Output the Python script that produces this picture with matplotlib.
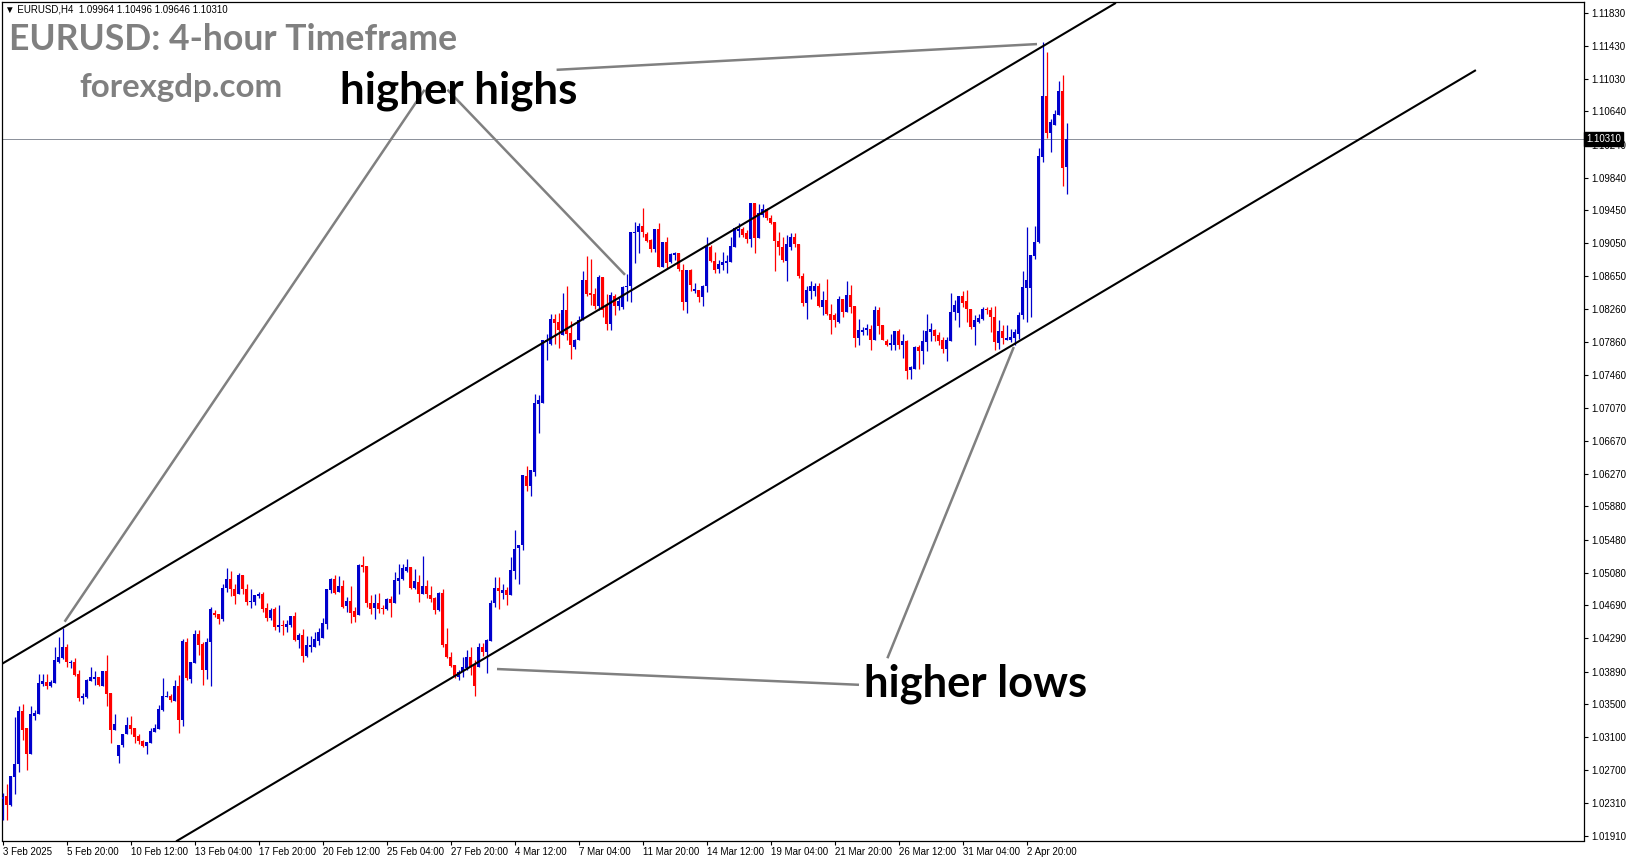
import matplotlib
matplotlib.use("Agg")
import matplotlib.pyplot as plt
import matplotlib.transforms as mtransforms
import numpy as np

# EURUSD H4 candles (oldest first)
opens = [
    1.0235, 1.0239, 1.0228, 1.0262, 1.0277, 1.0341, 1.0321, 1.0290, 1.0336, 1.0338,
    1.0374, 1.0376, 1.0371, 1.0375, 1.0401, 1.0405, 1.0418, 1.0399, 1.0401, 1.0386,
    1.0357, 1.0358, 1.0377, 1.0380, 1.0382, 1.0372, 1.0390, 1.0363, 1.0319, 1.0287,
    1.0300, 1.0314, 1.0325, 1.0321, 1.0311, 1.0305, 1.0299, 1.0303, 1.0316, 1.0320,
    1.0343, 1.0358, 1.0359, 1.0354, 1.0372, 1.0331, 1.0425, 1.0380, 1.0399, 1.0434,
    1.0422, 1.0391, 1.0424, 1.0459, 1.0458, 1.0452, 1.0490, 1.0500, 1.0488, 1.0483,
    1.0505, 1.0488, 1.0473, 1.0473, 1.0480, 1.0482, 1.0465, 1.0453, 1.0464, 1.0443,
    1.0445, 1.0443, 1.0445, 1.0456, 1.0427, 1.0433, 1.0408, 1.0419, 1.0419, 1.0426,
    1.0429, 1.0446, 1.0487, 1.0500, 1.0485, 1.0492, 1.0468, 1.0474, 1.0462, 1.0457,
    1.0517, 1.0516, 1.0471, 1.0466, 1.0471, 1.0466, 1.0464, 1.0476, 1.0472, 1.0498,
    1.0501, 1.0510, 1.0515, 1.0490, 1.0497, 1.0482, 1.0492, 1.0481, 1.0477, 1.0463,
    1.0484, 1.0422, 1.0406, 1.0397, 1.0383, 1.0388, 1.0393, 1.0406, 1.0397, 1.0394,
    1.0419, 1.0413, 1.0426, 1.0471, 1.0490, 1.0484, 1.0487, 1.0481, 1.0510, 1.0538,
    1.0541, 1.0625, 1.0612, 1.0629, 1.0711, 1.0713, 1.0786, 1.0784, 1.0814, 1.0810,
    1.0795, 1.0825, 1.0797, 1.0780, 1.0788, 1.0812, 1.0861, 1.0845, 1.0844, 1.0830,
    1.0864, 1.0830, 1.0808, 1.0841, 1.0829, 1.0828, 1.0852, 1.0853, 1.0917, 1.0918,
    1.0926, 1.0916, 1.0909, 1.0898, 1.0922, 1.0877, 1.0906, 1.0882, 1.0891, 1.0893,
    1.0873, 1.0834, 1.0873, 1.0847, 1.0849, 1.0840, 1.0853, 1.0901, 1.0884, 1.0874,
    1.0879, 1.0881, 1.0883, 1.0901, 1.0920, 1.0922, 1.0917, 1.0910, 1.0953, 1.0911,
    1.0939, 1.0946, 1.0936, 1.0931, 1.0908, 1.0901, 1.0884, 1.0901, 1.0913, 1.0904,
    1.0865, 1.0833, 1.0848, 1.0847, 1.0853, 1.0828, 1.0837, 1.0820, 1.0818, 1.0810,
    1.0838, 1.0822, 1.0843, 1.0829, 1.0791, 1.0798, 1.0800, 1.0802, 1.0789, 1.0825,
    1.0806, 1.0787, 1.0782, 1.0782, 1.0799, 1.0783, 1.0787, 1.0752, 1.0754, 1.0780,
    1.0775, 1.0786, 1.0798, 1.0800, 1.0794, 1.0788, 1.0778, 1.0787, 1.0822, 1.0821,
    1.0841, 1.0836, 1.0826, 1.0804, 1.0810, 1.0814, 1.0826, 1.0825, 1.0816, 1.0785,
    1.0799, 1.0788, 1.0788, 1.0791, 1.0796, 1.0818, 1.0851, 1.0851, 1.0890, 1.0906,
    1.1009, 1.1082, 1.1038, 1.1048, 1.1060, 1.1088, 1.09964,
]
highs = [
    1.0243, 1.0253, 1.0263, 1.0334, 1.0348, 1.0350, 1.0321, 1.0348, 1.0343, 1.0386,
    1.0386, 1.0386, 1.0379, 1.0418, 1.0430, 1.0441, 1.0422, 1.0403, 1.0405, 1.0391,
    1.0363, 1.0380, 1.0395, 1.0390, 1.0383, 1.0390, 1.0409, 1.0363, 1.0338, 1.0301,
    1.0314, 1.0334, 1.0335, 1.0321, 1.0314, 1.0306, 1.0304, 1.0321, 1.0326, 1.0349,
    1.0381, 1.0365, 1.0362, 1.0379, 1.0385, 1.0428, 1.0429, 1.0401, 1.0439, 1.0439,
    1.0424, 1.0429, 1.0467, 1.0463, 1.0458, 1.0495, 1.0514, 1.0510, 1.0495, 1.0508,
    1.0505, 1.0494, 1.0488, 1.0481, 1.0485, 1.0485, 1.0471, 1.0466, 1.0467, 1.0469,
    1.0451, 1.0451, 1.0456, 1.0461, 1.0435, 1.0440, 1.0432, 1.0432, 1.0437, 1.0441,
    1.0453, 1.0488, 1.0502, 1.0505, 1.0504, 1.0499, 1.0479, 1.0492, 1.0467, 1.0519,
    1.0528, 1.0516, 1.0481, 1.0483, 1.0484, 1.0469, 1.0477, 1.0480, 1.0509, 1.0519,
    1.0519, 1.0524, 1.0515, 1.0512, 1.0505, 1.0528, 1.0499, 1.0492, 1.0479, 1.0485,
    1.0488, 1.0441, 1.0413, 1.0397, 1.0391, 1.0407, 1.0415, 1.0419, 1.0403, 1.0423,
    1.0423, 1.0428, 1.0475, 1.0503, 1.0503, 1.0495, 1.0491, 1.0527, 1.0560, 1.0541,
    1.0626, 1.0637, 1.0632, 1.0723, 1.0722, 1.0788, 1.0796, 1.0820, 1.0820, 1.0821,
    1.0845, 1.0853, 1.0811, 1.0790, 1.0817, 1.0872, 1.0890, 1.0886, 1.0851, 1.0867,
    1.0864, 1.0844, 1.0846, 1.0844, 1.0840, 1.0854, 1.0868, 1.0919, 1.0931, 1.0930,
    1.0948, 1.0918, 1.0910, 1.0922, 1.0930, 1.0906, 1.0912, 1.0893, 1.0895, 1.0893,
    1.0880, 1.0873, 1.0874, 1.0857, 1.0849, 1.0855, 1.0913, 1.0903, 1.0895, 1.0885,
    1.0895, 1.0891, 1.0913, 1.0924, 1.0929, 1.0925, 1.0921, 1.0954, 1.0954, 1.0952,
    1.0952, 1.0947, 1.0939, 1.0931, 1.0919, 1.0913, 1.0915, 1.0917, 1.0917, 1.0904,
    1.0869, 1.0853, 1.0859, 1.0857, 1.0857, 1.0847, 1.0862, 1.0832, 1.0821, 1.0841,
    1.0838, 1.0859, 1.0855, 1.0830, 1.0814, 1.0804, 1.0808, 1.0806, 1.0830, 1.0828,
    1.0806, 1.0790, 1.0796, 1.0799, 1.0802, 1.0796, 1.0789, 1.0757, 1.0781, 1.0782,
    1.0800, 1.0820, 1.0809, 1.0802, 1.0798, 1.0792, 1.0792, 1.0845, 1.0837, 1.0841,
    1.0847, 1.0849, 1.0826, 1.0818, 1.0820, 1.0828, 1.0828, 1.0828, 1.0829, 1.0812,
    1.0806, 1.0807, 1.0802, 1.0802, 1.0822, 1.0872, 1.0925, 1.0891, 1.0926, 1.1020,
    1.1148, 1.1136, 1.1055, 1.1065, 1.1100, 1.1108, 1.10496,
]
lows = [
    1.0210, 1.0210, 1.0227, 1.0242, 1.0268, 1.0306, 1.0270, 1.0290, 1.0330, 1.0338,
    1.0372, 1.0368, 1.0370, 1.0375, 1.0399, 1.0404, 1.0395, 1.0393, 1.0384, 1.0354,
    1.0350, 1.0357, 1.0377, 1.0373, 1.0371, 1.0372, 1.0347, 1.0303, 1.0318, 1.0279,
    1.0298, 1.0314, 1.0314, 1.0303, 1.0302, 1.0298, 1.0290, 1.0303, 1.0316, 1.0320,
    1.0342, 1.0358, 1.0352, 1.0354, 1.0315, 1.0323, 1.0379, 1.0375, 1.0399, 1.0409,
    1.0373, 1.0380, 1.0372, 1.0455, 1.0446, 1.0450, 1.0485, 1.0480, 1.0470, 1.0483,
    1.0483, 1.0469, 1.0466, 1.0469, 1.0478, 1.0461, 1.0450, 1.0451, 1.0439, 1.0437,
    1.0433, 1.0437, 1.0443, 1.0426, 1.0417, 1.0400, 1.0406, 1.0413, 1.0418, 1.0421,
    1.0429, 1.0440, 1.0484, 1.0482, 1.0485, 1.0465, 1.0461, 1.0448, 1.0449, 1.0457,
    1.0509, 1.0467, 1.0458, 1.0452, 1.0459, 1.0458, 1.0463, 1.0455, 1.0472, 1.0483,
    1.0499, 1.0509, 1.0488, 1.0488, 1.0473, 1.0482, 1.0477, 1.0473, 1.0458, 1.0462,
    1.0418, 1.0405, 1.0395, 1.0381, 1.0379, 1.0382, 1.0391, 1.0385, 1.0359, 1.0394,
    1.0408, 1.0387, 1.0426, 1.0467, 1.0464, 1.0476, 1.0469, 1.0481, 1.0501, 1.0494,
    1.0536, 1.0607, 1.0601, 1.0624, 1.0676, 1.0712, 1.0764, 1.0783, 1.0784, 1.0779,
    1.0795, 1.0788, 1.0765, 1.0778, 1.0788, 1.0812, 1.0841, 1.0831, 1.0826, 1.0824,
    1.0816, 1.0800, 1.0800, 1.0818, 1.0824, 1.0826, 1.0836, 1.0834, 1.0881, 1.0893,
    1.0913, 1.0906, 1.0895, 1.0895, 1.0877, 1.0877, 1.0875, 1.0881, 1.0885, 1.0871,
    1.0824, 1.0821, 1.0848, 1.0845, 1.0834, 1.0830, 1.0846, 1.0883, 1.0869, 1.0869,
    1.0873, 1.0869, 1.0883, 1.0901, 1.0913, 1.0912, 1.0905, 1.0901, 1.0893, 1.0911,
    1.0937, 1.0933, 1.0928, 1.0872, 1.0891, 1.0883, 1.0860, 1.0897, 1.0900, 1.0863,
    1.0829, 1.0814, 1.0838, 1.0842, 1.0828, 1.0818, 1.0818, 1.0796, 1.0804, 1.0809,
    1.0816, 1.0822, 1.0821, 1.0780, 1.0783, 1.0794, 1.0794, 1.0776, 1.0789, 1.0796,
    1.0788, 1.0781, 1.0776, 1.0776, 1.0778, 1.0767, 1.0742, 1.0741, 1.0753, 1.0753,
    1.0759, 1.0775, 1.0787, 1.0787, 1.0783, 1.0773, 1.0763, 1.0787, 1.0812, 1.0804,
    1.0828, 1.0810, 1.0802, 1.0782, 1.0809, 1.0813, 1.0820, 1.0798, 1.0777, 1.0778,
    1.0784, 1.0788, 1.0786, 1.0782, 1.0790, 1.0814, 1.0810, 1.0816, 1.0886, 1.0905,
    1.1003, 1.1032, 1.1015, 1.1048, 1.1060, 1.0974, 1.09646,
]
closes = [
    1.0238, 1.0228, 1.0263, 1.0278, 1.0341, 1.0319, 1.0290, 1.0338, 1.0339, 1.0375,
    1.0377, 1.0372, 1.0376, 1.0403, 1.0406, 1.0418, 1.0400, 1.0401, 1.0385, 1.0357,
    1.0359, 1.0379, 1.0382, 1.0382, 1.0373, 1.0390, 1.0362, 1.0319, 1.0326, 1.0301,
    1.0314, 1.0325, 1.0320, 1.0310, 1.0305, 1.0299, 1.0304, 1.0317, 1.0321, 1.0344,
    1.0360, 1.0360, 1.0355, 1.0372, 1.0331, 1.0426, 1.0381, 1.0400, 1.0434, 1.0421,
    1.0391, 1.0424, 1.0464, 1.0457, 1.0452, 1.0490, 1.0500, 1.0488, 1.0480, 1.0505,
    1.0489, 1.0473, 1.0474, 1.0481, 1.0483, 1.0464, 1.0453, 1.0463, 1.0443, 1.0445,
    1.0444, 1.0446, 1.0456, 1.0427, 1.0433, 1.0408, 1.0421, 1.0421, 1.0428, 1.0437,
    1.0447, 1.0488, 1.0500, 1.0484, 1.0492, 1.0467, 1.0474, 1.0460, 1.0455, 1.0517,
    1.0515, 1.0471, 1.0464, 1.0471, 1.0464, 1.0464, 1.0476, 1.0472, 1.0499, 1.0502,
    1.0514, 1.0515, 1.0490, 1.0498, 1.0482, 1.0492, 1.0482, 1.0476, 1.0463, 1.0484,
    1.0421, 1.0406, 1.0396, 1.0384, 1.0388, 1.0395, 1.0406, 1.0395, 1.0372, 1.0419,
    1.0413, 1.0427, 1.0472, 1.0490, 1.0486, 1.0487, 1.0481, 1.0511, 1.0537, 1.0541,
    1.0626, 1.0612, 1.0632, 1.0712, 1.0716, 1.0788, 1.0789, 1.0814, 1.0809, 1.0800,
    1.0825, 1.0796, 1.0782, 1.0789, 1.0813, 1.0861, 1.0844, 1.0843, 1.0830, 1.0864,
    1.0824, 1.0808, 1.0843, 1.0829, 1.0836, 1.0852, 1.0854, 1.0918, 1.0919, 1.0926,
    1.0919, 1.0908, 1.0898, 1.0922, 1.0877, 1.0906, 1.0881, 1.0892, 1.0893, 1.0874,
    1.0834, 1.0873, 1.0855, 1.0850, 1.0840, 1.0853, 1.0901, 1.0884, 1.0873, 1.0880,
    1.0883, 1.0884, 1.0902, 1.0923, 1.0922, 1.0915, 1.0910, 1.0953, 1.0911, 1.0942,
    1.0946, 1.0935, 1.0929, 1.0908, 1.0901, 1.0885, 1.0904, 1.0913, 1.0904, 1.0865,
    1.0833, 1.0849, 1.0853, 1.0853, 1.0830, 1.0837, 1.0820, 1.0812, 1.0812, 1.0838,
    1.0822, 1.0843, 1.0828, 1.0791, 1.0800, 1.0801, 1.0803, 1.0789, 1.0825, 1.0805,
    1.0789, 1.0783, 1.0785, 1.0799, 1.0783, 1.0787, 1.0751, 1.0756, 1.0780, 1.0775,
    1.0787, 1.0799, 1.0802, 1.0793, 1.0787, 1.0778, 1.0789, 1.0822, 1.0831, 1.0841,
    1.0833, 1.0826, 1.0804, 1.0812, 1.0815, 1.0826, 1.0824, 1.0816, 1.0786, 1.0799,
    1.0791, 1.0791, 1.0792, 1.0798, 1.0819, 1.0852, 1.0861, 1.0891, 1.0907, 1.1010,
    1.1082, 1.1038, 1.1051, 1.1061, 1.1088, 1.0996, 1.10310,
]

symbol = "EURUSD,H4"
date_labels = ["3 Feb 2025", "5 Feb 20:00", "10 Feb 12:00", "13 Feb 04:00",
               "17 Feb 20:00", "20 Feb 12:00", "25 Feb 04:00", "27 Feb 20:00",
               "4 Mar 12:00", "7 Mar 04:00", "11 Mar 20:00", "14 Mar 12:00",
               "19 Mar 04:00", "21 Mar 20:00", "26 Mar 12:00", "31 Mar 04:00",
               "2 Apr 20:00"]
bars_per_label = 16
price_labels = ["1.11830", "1.11430", "1.11030", "1.10640", "1.10240", "1.09840",
                "1.09450", "1.09050", "1.08650", "1.08260", "1.07860", "1.07460",
                "1.07070", "1.06670", "1.06270", "1.05880", "1.05480", "1.05080",
                "1.04690", "1.04290", "1.03890", "1.03500", "1.03100", "1.02700",
                "1.02310", "1.01910"]

# channel trendlines, (bar, price) anchors
upper_channel = [(0, 1.0399), (278, 1.1194)]
lower_channel = [(43.5, 1.0185), (368, 1.1113)]

# grey pointer lines, (bar, price) start -> end
high_pointers = [[(105.4, 1.1090), (15.4, 1.0449)],
                 [(111.1, 1.1090), (155.5, 1.0867)],
                 [(138.4, 1.1114), (258.5, 1.1145)]]
low_pointers = [[(214.0, 1.0373), (123.5, 1.0392)],
                [(221.1, 1.0405), (252.7, 1.0780)]]

BULL = "#0000CD"
BEAR = "#FF0000"

W, H = 1631, 861
fig = plt.figure(figsize=(W / 100, H / 100), dpi=100)
ax = fig.add_axes([2 / W, 1 - 840.5 / H, 1582 / W, 838.5 / H])

o = np.array(opens)
h = np.array(highs)
l = np.array(lows)
c = np.array(closes)
x = np.arange(len(c))
cols = np.where(c >= o, BULL, BEAR)

ax.vlines(x, l, h, colors=cols, linewidth=0.9, zorder=3)
body_h = np.maximum(np.abs(c - o), 0.00012)
ax.bar(x, body_h, width=0.75, bottom=np.minimum(o, c), color=cols,
       linewidth=0, zorder=4)

# channel
for (x0, y0), (x1, y1) in [upper_channel, lower_channel]:
    ax.plot([x0, x1], [y0, y1], color="black", lw=1.5, zorder=5)

for seg in high_pointers + low_pointers:
    (x0, y0), (x1, y1) = seg
    ax.plot([x0, x1], [y0, y1], color="#808080", lw=1.8, zorder=6,
            solid_capstyle="butt")

# current price line + label
last = c[-1]
ax.axhline(last, color="#8a8f99", lw=0.7, zorder=2)
trans = mtransforms.blended_transform_factory(ax.transAxes, ax.transData)
ax.text(1.0015, last, f"{last:.5f}", transform=trans, color="white",
        fontsize=7, family=["Liberation Sans", "DejaVu Sans"], va="center",
        ha="left", zorder=10, clip_on=False,
        bbox=dict(facecolor="black", edgecolor="black", pad=1.5))

ax.set_xlim(-0.25, 395.25)
ax.set_ylim(1.01854, 1.11957)

ax.yaxis.tick_right()
ax.set_yticks([float(p) for p in price_labels])
ax.set_yticklabels(price_labels)
tick_pos = [i * bars_per_label for i in range(len(date_labels))]
ax.set_xticks(tick_pos)
ax.set_xticklabels(date_labels, ha="left")
ax.tick_params(axis="both", direction="out", length=3, width=0.8,
               labelsize=7, pad=2, colors="black")
for lab in ax.get_xticklabels() + ax.get_yticklabels():
    lab.set_family(["Liberation Sans", "DejaVu Sans"])
for s in ax.spines.values():
    s.set_linewidth(0.9)
    s.set_color("black")

header = f"\u25BC {symbol}  {o[-1]:.5f} {h[-1]:.5f} {l[-1]:.5f} {c[-1]:.5f}"
fig.text(5 / W, 1 - 10 / H, header, fontsize=7, va="center",
         family=["Liberation Sans", "DejaVu Sans"])

fig.text(9 / W, 1 - 40 / H, "EURUSD: 4-hour Timeframe", fontsize=25.6,
         fontweight="bold", color="#808080", family="Lato", va="center")
fig.text(79 / W, 1 - 87 / H, "forexgdp.com", fontsize=23.8,
         fontweight="bold", color="#808080", family="Lato", va="center")
fig.text(340 / W, 1 - 91 / H, "higher highs", fontsize=31.6,
         fontweight="bold", color="black", family="Lato", va="center")
fig.text(864 / W, 1 - 684 / H, "higher lows", fontsize=31.3,
         fontweight="bold", color="black", family="Lato", va="center")

fig.savefig("out.png", dpi=100)
